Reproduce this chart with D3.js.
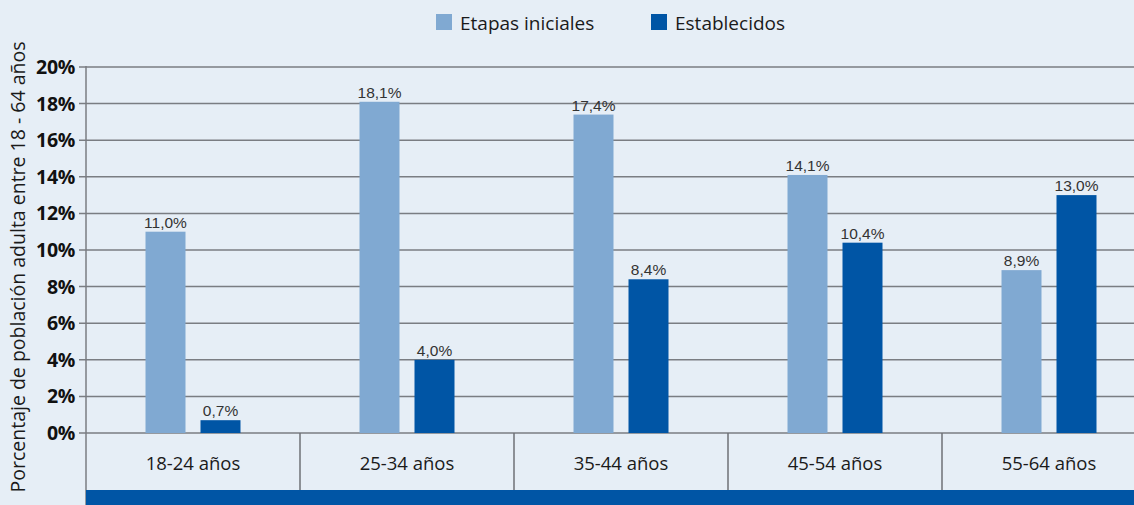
<!DOCTYPE html>
<html>
<head>
<meta charset="utf-8">
<script src="https://cdn.jsdelivr.net/npm/d3@7"></script>
<style>
  body { margin: 0; background: #e6eef6; }
  svg { display: block; }
</style>
</head>
<body>
<div class="chart"></div>
<script>
const categories = ['18-24 años', '25-34 años', '35-44 años', '45-54 años', '55-64 años'];
const series = ['Etapas iniciales', 'Establecidos'];
const etapas = [11.0, 18.1, 17.4, 14.1, 8.9];
const establecidos = [0.7, 4.0, 8.4, 10.4, 13.0];
const yTicks = [0, 2, 4, 6, 8, 10, 12, 14, 16, 18, 20];
const colors = ['#80a9d2', '#0055a5'];

const width = 1134;
const height = 505;
const mLeft = 86, mTop = 67, mBottom = 433;

const svg = d3.select('.chart').append('svg').attr('width', width).attr('height', height)
svg.append('rect').attr('width', width).attr('height', height).attr('fill', '#e6eef6')

const y = d3.scaleLinear().domain([0, 20]).range([mBottom, mTop])
const x = d3.scaleBand().domain(categories).range([mLeft, mLeft + 214 * 5])
const xSub = d3.scaleOrdinal().domain(series).range([-47.5, 7.5])

// gridlines + ticks
svg.selectAll('line.grid')
    .data(yTicks)
    .enter()
    .append('line')
    .attr('x1', mLeft - 7)
    .attr('x2', width)
    .attr('y1', d=>y(d))
    .attr('y2', d=>y(d))
    .attr('stroke', '#7a7d82')
    .attr('stroke-width', 1.5)
svg.selectAll('text.tick')
    .data(yTicks)
    .enter()
    .append('text')
    .text(d=>d + '%')
    .attr('x', mLeft - 11)
    .attr('y', d=>y(d))
    .attr('dy', '0.36em')
    .attr('text-anchor', 'end')
    .attr('font-family', 'Open Sans, sans-serif')
    .attr('font-weight', 'bold')
    .attr('font-size', 19.5)
    .attr('letter-spacing', -0.3)
    .attr('fill', '#111')

// y axis line
svg.append('line')
    .attr('x1', mLeft).attr('x2', mLeft)
    .attr('y1', mTop - 1).attr('y2', height)
    .attr('stroke', '#7a7d82').attr('stroke-width', 1.5)

// category dividers
svg.selectAll('line.div')
    .data(categories.slice(1))
    .enter()
    .append('line')
    .attr('x1', d=>x(d)).attr('x2', d=>x(d))
    .attr('y1', mBottom).attr('y2', 490)
    .attr('stroke', '#6e7176').attr('stroke-width', 1.5)

// bottom band
svg.append('rect')
    .attr('x', mLeft).attr('y', 490)
    .attr('width', width - mLeft).attr('height', height - 490)
    .attr('fill', '#0055a5')

svg.selectAll('text.cat')
    .data(categories)
    .enter()
    .append('text')
    .text(d=>d)
    .attr('x', d=>x(d) + x.bandwidth() / 2)
    .attr('y', 470)
    .attr('text-anchor', 'middle')
    .attr('font-family', 'Open Sans, sans-serif')
    .attr('font-size', 18.5)
    .attr('fill', '#1a1a1a')

// bars
const rows = [];
categories.forEach((c, i) => {
    rows.push({cat: c, s: series[0], v: etapas[i], col: colors[0]})
    rows.push({cat: c, s: series[1], v: establecidos[i], col: colors[1]})
})
const fmt = v => v.toFixed(1).replace('.', ',') + '%'

svg.selectAll('rect.bar')
    .data(rows)
    .enter()
    .append('rect')
    .attr('x', d=>x(d.cat) + x.bandwidth() / 2 + xSub(d.s))
    .attr('y', d=>y(d.v))
    .attr('width', 40)
    .attr('height', d=>mBottom - y(d.v))
    .attr('fill', d=>d.col)
svg.selectAll('text.val')
    .data(rows)
    .enter()
    .append('text')
    .text(d=>fmt(d.v))
    .attr('x', d=>x(d.cat) + x.bandwidth() / 2 + xSub(d.s) + 20)
    .attr('y', d=>y(d.v) - 4)
    .attr('text-anchor', 'middle')
    .attr('font-family', 'Liberation Sans, Arial, sans-serif')
    .attr('font-size', 15.5)
    .attr('fill', '#333')

// y title
svg.append('text')
    .text('Porcentaje de población adulta entre 18 - 64 años')
    .attr('transform', 'translate(25,' + 267 + ') rotate(-90)')
    .attr('text-anchor', 'middle')
    .attr('font-family', 'Open Sans, sans-serif')
    .attr('font-size', 19.5)
    .attr('fill', '#1a1a1a')

// legend
const lx = [436, 651];
series.forEach((s, i) => {
    svg.append('rect').attr('x', lx[i]).attr('y', 14).attr('width', 16).attr('height', 16).attr('fill', colors[i])
    svg.append('text').text(s)
        .attr('x', lx[i] + 24).attr('y', 30)
        .attr('font-family', 'Open Sans, sans-serif')
        .attr('font-size', 19)
        .attr('fill', '#1a1a1a')
})
</script>
</body>
</html>
